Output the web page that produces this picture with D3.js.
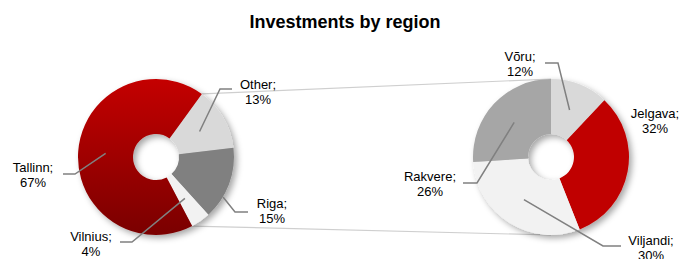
<!DOCTYPE html>
<html>
<head>
<meta charset="utf-8">
<script src="https://cdn.jsdelivr.net/npm/d3@7"></script>
<style>
body { margin: 0; background: #fff; }
svg { display: block; font-family: "Liberation Sans", Arial, sans-serif; }
</style>
</head>
<body>
<script>
// data
let leftNames = ["Other", "Riga", "Vilnius", "Tallinn"];
let leftValues = [13, 15, 4, 67];
let rightNames = ["Võru", "Jelgava", "Viljandi", "Rakvere"];
let rightValues = [12, 32, 30, 26];

let w = 680;
let h = 259;
let outerR = 78;
let innerR = 23;
let leftC = [156, 157];
let rightC = [551, 157];

let leftColors = ["#d9d9d9", "#808080", "#f2f2f2", "url(#redGrad)"];
let rightColors = ["#d9d9d9", "#c00000", "#f2f2f2", "#a6a6a6"];

// label placement relative to pie centre: text x, first baseline y, leader bend + end (null = no leader)
let leftLayout = [
	{ x: 102, y: -68, bend: [64, -68], end: [76, -68] },
	{ x: 116, y: 51, start: [67, 40], bend: [79, 55], end: [92, 55] },
	{ x: -65, y: 84, bend: [-24, 85], end: [-36, 85] },
	{ x: -123, y: 15, bend: [-81, 17], end: [-93, 17] }
];
let rightLayout = [
	{ x: -31, y: -96, bend: [7, -94], end: [-6, -94] },
	{ x: 104, y: -39, bend: null },
	{ x: 100, y: 88, bend: [52, 89], end: [70, 89] },
	{ x: -121, y: 24, bend: [-74, 26], end: [-88, 26] }
];

let svg = d3.select("body").append("svg").attr("width", w).attr("height", h);
let defs = svg.append("defs");

// gradient in the pie group's own coordinates (centre at 0,0)
let grad = defs.append("linearGradient")
	.attr("id", "redGrad")
	.attr("gradientUnits", "userSpaceOnUse")
	.attr("x1", 0).attr("y1", -outerR)
	.attr("x2", 0).attr("y2", outerR);
grad.append("stop").attr("offset", "0%").attr("stop-color", "#c40000");
grad.append("stop").attr("offset", "100%").attr("stop-color", "#7a0000");

let shadow = defs.append("filter").attr("id", "shadow")
	.attr("x", "-20%").attr("y", "-20%").attr("width", "150%").attr("height", "150%");
shadow.append("feDropShadow")
	.attr("dx", 3).attr("dy", 3)
	.attr("stdDeviation", 3)
	.attr("flood-color", "#000")
	.attr("flood-opacity", 0.35);

svg.append("text")
	.text("Investments by region")
	.attr("x", 345)
	.attr("y", 28)
	.attr("text-anchor", "middle")
	.attr("font-size", "18px")
	.attr("font-weight", "bold")
	.attr("fill", "#000");

let arc = d3.arc().innerRadius(innerR).outerRadius(outerR);
let startL = 36 * Math.PI / 180;
let pieL = d3.pie().sort(null).startAngle(startL).endAngle(startL + 2 * Math.PI);
let pieR = d3.pie().sort(null);

let arcsL = pieL(leftValues);
let arcsR = pieR(rightValues);

// connector lines between the two pies (edges of the Tallinn slice -> top / bottom of right pie)
let tall = arcsL[3];
function polar(c, r, a) {
	return [c[0] + r * Math.sin(a), c[1] - r * Math.cos(a)];
}
let conn = [
	[polar(leftC, outerR, tall.endAngle), polar(rightC, outerR, 0)],
	[polar(leftC, outerR, tall.startAngle), polar(rightC, outerR, Math.PI)]
];
svg.selectAll("line.conn")
	.data(conn)
	.enter()
	.append("line")
	.attr("class", "conn")
	.attr("x1", function(d) { return d[0][0]; })
	.attr("y1", function(d) { return d[0][1]; })
	.attr("x2", function(d) { return d[1][0]; })
	.attr("y2", function(d) { return d[1][1]; })
	.attr("stroke", "#cfcfcf")
	.attr("stroke-width", 1.2);

function drawPie(c, arcs, names, values, colors, layout) {
	let g = svg.append("g").attr("transform", "translate(" + c[0] + "," + c[1] + ")");
	g.append("g")
		.attr("filter", "url(#shadow)")
		.selectAll("path")
		.data(arcs)
		.enter()
		.append("path")
		.attr("d", arc)
		.attr("fill", function(d, i) { return colors[i]; });

	let line = d3.line();
	g.selectAll("path.leader")
		.data(arcs.filter(function(d, i) { return layout[i].bend; }))
		.enter()
		.append("path")
		.attr("class", "leader")
		.attr("d", function(d) {
			let l = layout[d.index];
			let s = l.start ? l.start : arc.centroid(d);
			return line([s, l.bend, l.end]);
		})
		.attr("fill", "none")
		.attr("stroke", "#808080")
		.attr("stroke-width", 1.5);

	let t = g.selectAll("text")
		.data(arcs)
		.enter()
		.append("text")
		.attr("text-anchor", "middle")
		.attr("font-size", "13px")
		.attr("fill", "#000");
	t.append("tspan")
		.attr("x", function(d, i) { return layout[i].x; })
		.attr("y", function(d, i) { return layout[i].y; })
		.text(function(d, i) { return names[i] + ";"; });
	t.append("tspan")
		.attr("x", function(d, i) { return layout[i].x; })
		.attr("y", function(d, i) { return layout[i].y + 14.5; })
		.text(function(d, i) { return values[i] + "%"; });
}

drawPie(leftC, arcsL, leftNames, leftValues, leftColors, leftLayout);
drawPie(rightC, arcsR, rightNames, rightValues, rightColors, rightLayout);
</script>
</body>
</html>
